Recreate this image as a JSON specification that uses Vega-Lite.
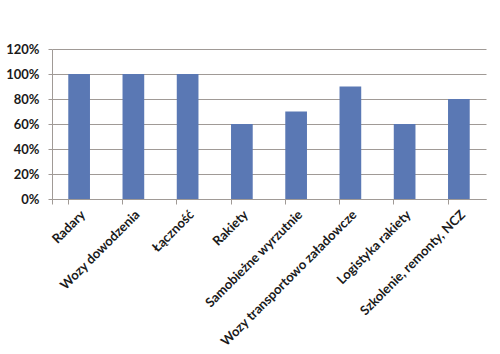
{
  "$schema": "https://vega.github.io/schema/vega-lite/v6.json",
  "autosize": "none",
  "width": 434,
  "height": 150,
  "padding": {"left": 52, "top": 49, "right": 14, "bottom": 155},
  "background": "white",
  "data": {
    "values": [
      {"kategoria": "Radary", "wartosc": 1.0},
      {"kategoria": "Wozy dowodzenia", "wartosc": 1.0},
      {"kategoria": "Łączność", "wartosc": 1.0},
      {"kategoria": "Rakiety", "wartosc": 0.6},
      {"kategoria": "Samobieżne wyrzutnie", "wartosc": 0.7},
      {"kategoria": "Wozy transportowo załadowcze", "wartosc": 0.9},
      {"kategoria": "Logistyka rakiety", "wartosc": 0.6},
      {"kategoria": "Szkolenie, remonty, NCZ", "wartosc": 0.8}
    ]
  },
  "mark": {"type": "bar", "color": "#5a78b4"},
  "encoding": {
    "x": {
      "field": "kategoria",
      "type": "nominal",
      "sort": null,
      "scale": {"paddingInner": 0.6, "paddingOuter": 0.3},
      "axis": {
        "title": null,
        "labelAngle": -45,
        "labelAlign": "right",
        "labelBaseline": "top",
        "labelPadding": 4,
        "labelLimit": 300,
        "labelFont": "Lato",
        "labelFontWeight": "bold",
        "labelFontSize": 13,
        "labelColor": "#1a1a1a",
        "bandPosition": 0,
        "tickExtra": true,
        "tickSize": 5,
        "tickColor": "#a09a96",
        "domainColor": "#a09a96",
        "grid": false
      }
    },
    "y": {
      "field": "wartosc",
      "type": "quantitative",
      "scale": {"domain": [0, 1.2], "nice": false},
      "axis": {
        "title": null,
        "format": ".0%",
        "values": [0, 0.2, 0.4, 0.6, 0.8, 1.0, 1.2],
        "labelFont": "Lato",
        "labelFontWeight": "bold",
        "labelFontSize": 13,
        "labelColor": "#1a1a1a",
        "labelPadding": 9,
        "tickSize": 4,
        "tickColor": "#a09a96",
        "domainColor": "#a09a96",
        "gridColor": "#a09a96",
        "gridOpacity": 1
      }
    }
  },
  "config": {"view": {"stroke": null}}
}
